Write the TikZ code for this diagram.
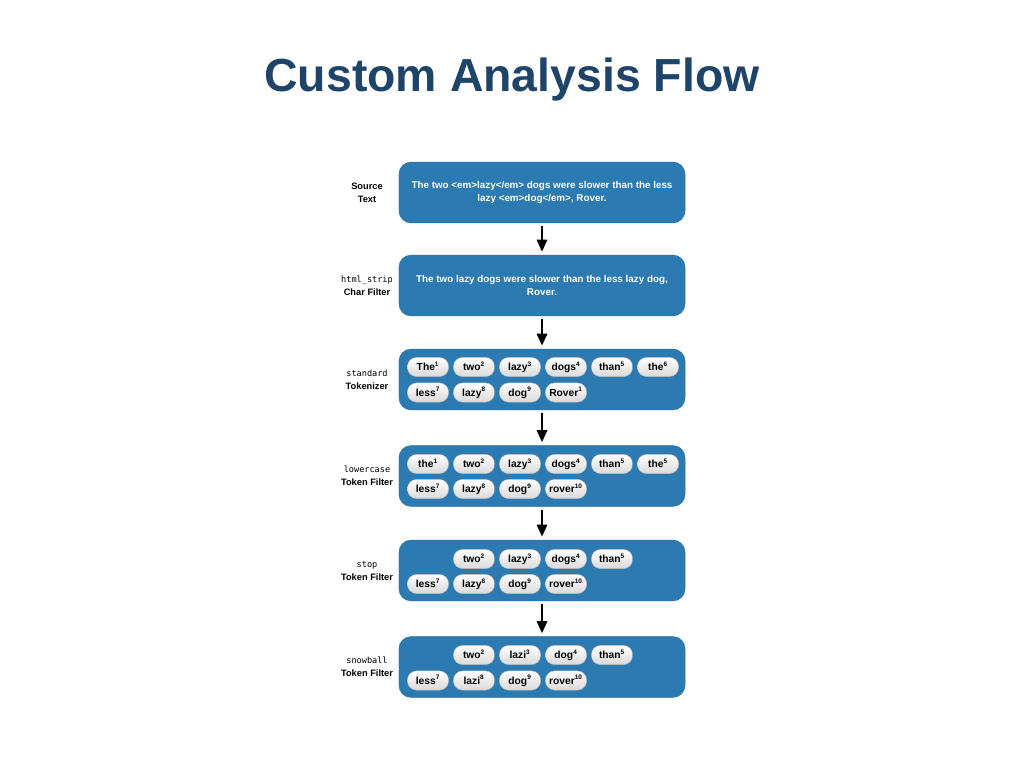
\documentclass[tikz,border=0pt]{standalone}
\usepackage{fontspec}
\setmainfont{Liberation Sans}
\setmonofont{DejaVu Sans Mono}
\usepackage{tikz}
\usetikzlibrary{arrows.meta,calc,positioning}
\definecolor{titleblue}{RGB}{31,68,106}
\definecolor{stageblue}{RGB}{44,122,178}
\definecolor{pillgray}{RGB}{232,232,232}

\tikzset{
  stagebox/.style={fill=stageblue, draw=stageblue!90!black, line width=0.3pt, rounded corners=0.3cm,
    minimum width=7.15cm, minimum height=1.52cm, text=white, align=center,
    font=\fontsize{7}{9.4}\selectfont\bfseries, inner sep=0pt},
  token/.style={top color=white, bottom color=pillgray!85!gray, draw=gray!55, line width=0.3pt,
    rounded corners=0.23cm, minimum width=1.03cm, minimum height=0.48cm, inner sep=0pt,
    text height=6.4pt, text depth=1.2pt, font=\fontsize{7.3}{8}\selectfont\bfseries},
  stagelabel/.style={align=center, font=\fontsize{6.6}{9.2}\selectfont\bfseries},
  flowarrow/.style={line width=1.4pt, -{Triangle[length=0.3cm,width=0.26cm]}, shorten <=0.08cm, shorten >=0.08cm}
}
\newcommand{\tk}[2]{#1\textsuperscript{\fontsize{4.6}{5}\selectfont #2}}
\newcommand{\cmd}[1]{{\mdseries\ttfamily\fontsize{6.1}{9.2}\selectfont #1}}

\begin{document}
\begin{tikzpicture}[x=0.025cm, y=-0.025cm]
        \useasboundingbox (0,0) rectangle (1024,768);
        %Title
        \node[font=\fontsize{33}{36}\selectfont\bfseries, text=titleblue] (title) at (512,80) {Custom Analysis Flow};
        %Stages
        \node[stagebox] (s1) at (542,192.5) {The two <em>lazy</em> dogs were slower than the less\\lazy <em>dog</em>, Rover.};
        \node[stagebox] (s2) at (542,285.5) {The two lazy dogs were slower than the less lazy dog,\\Rover.};
        \node[stagebox] (s3) at (542,379.5) {};
        \node[stagebox] (s4) at (542,476) {};
        \node[stagebox] (s5) at (542,570.5) {};
        \node[stagebox] (s6) at (542,667) {};
        %Labels
        \node[stagelabel] (l1) at (367,193) {Source\\Text};
        \node[stagelabel] (l2) at (367,286) {\cmd{html\_strip}\\Char Filter};
        \node[stagelabel] (l3) at (367,380) {\cmd{standard}\\Tokenizer};
        \node[stagelabel] (l4) at (367,476) {\cmd{lowercase}\\Token Filter};
        \node[stagelabel] (l5) at (367,571) {\cmd{stop}\\Token Filter};
        \node[stagelabel] (l6) at (367,667) {\cmd{snowball}\\Token Filter};
        %Arrows
        \foreach \a/\b in {s1/s2, s2/s3, s3/s4, s4/s5, s5/s6}
          \draw[flowarrow] (\a.south) -- (\b.north);
        %Tokens
        \foreach \i/\w in {1/\tk{The}{1}, 2/\tk{two}{2}, 3/\tk{lazy}{3}, 4/\tk{dogs}{4}, 5/\tk{than}{5}, 6/\tk{the}{6}}
          \node[token] (t3a\i) at ($(428+46*\i-46,367)$) {\w};
        \foreach \i/\w in {1/\tk{less}{7}, 2/\tk{lazy}{8}, 3/\tk{dog}{9}, 4/\tk{Rover}{1}}
          \node[token] (t3b\i) at ($(428+46*\i-46,392.5)$) {\w};
        \foreach \i/\w in {1/\tk{the}{1}, 2/\tk{two}{2}, 3/\tk{lazy}{3}, 4/\tk{dogs}{4}, 5/\tk{than}{5}, 6/\tk{the}{5}}
          \node[token] (t4a\i) at ($(428+46*\i-46,464)$) {\w};
        \foreach \i/\w in {1/\tk{less}{7}, 2/\tk{lazy}{8}, 3/\tk{dog}{9}, 4/\tk{rover}{10}}
          \node[token] (t4b\i) at ($(428+46*\i-46,489)$) {\w};
        \foreach \i/\w in {2/\tk{two}{2}, 3/\tk{lazy}{3}, 4/\tk{dogs}{4}, 5/\tk{than}{5}}
          \node[token] (t5a\i) at ($(428+46*\i-46,559)$) {\w};
        \foreach \i/\w in {1/\tk{less}{7}, 2/\tk{lazy}{8}, 3/\tk{dog}{9}, 4/\tk{rover}{10}}
          \node[token] (t5b\i) at ($(428+46*\i-46,584)$) {\w};
        \foreach \i/\w in {2/\tk{two}{2}, 3/\tk{lazi}{3}, 4/\tk{dog}{4}, 5/\tk{than}{5}}
          \node[token] (t6a\i) at ($(428+46*\i-46,655)$) {\w};
        \foreach \i/\w in {1/\tk{less}{7}, 2/\tk{lazi}{8}, 3/\tk{dog}{9}, 4/\tk{rover}{10}}
          \node[token] (t6b\i) at ($(428+46*\i-46,680.5)$) {\w};
      \end{tikzpicture}
\end{document}
